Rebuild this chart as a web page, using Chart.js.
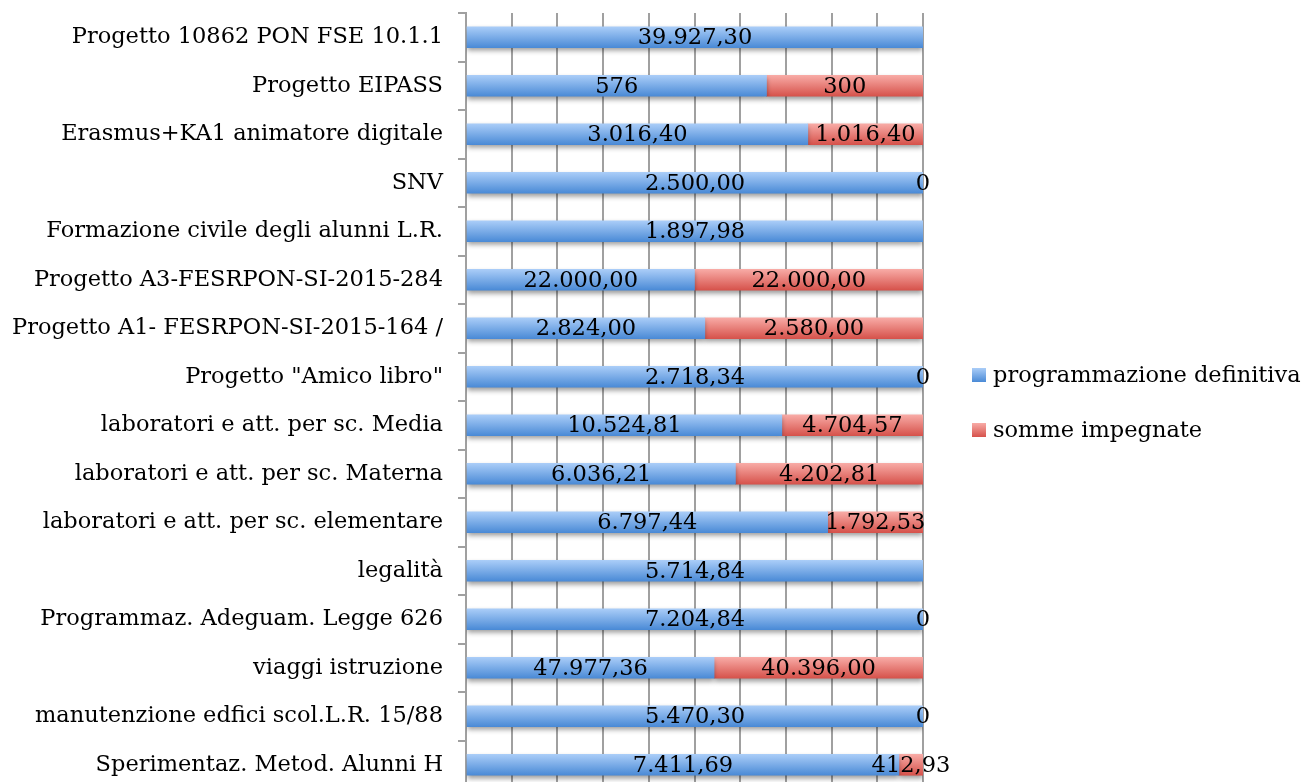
<!DOCTYPE html>
<html>
<head>
<meta charset="utf-8">
<script src="https://cdn.jsdelivr.net/npm/chart.js@4/dist/chart.umd.min.js"></script>
<style>
  html, body { margin: 0; padding: 0; background: #fff; overflow: hidden; }
</style>
</head>
<body>
<canvas id="chart" width="1305" height="800"></canvas>
<script>
const categories = [
    'Progetto 10862 PON FSE 10.1.1',
    'Progetto EIPASS',
    'Erasmus+KA1 animatore digitale',
    'SNV',
    'Formazione civile degli alunni L.R.',
    'Progetto A3-FESRPON-SI-2015-284',
    'Progetto A1- FESRPON-SI-2015-164 /',
    'Progetto "Amico libro"',
    'laboratori e att. per sc. Media',
    'laboratori e att. per sc. Materna',
    'laboratori e att. per sc. elementare',
    'legalità',
    'Programmaz. Adeguam. Legge 626',
    'viaggi istruzione',
    'manutenzione edfici scol.L.R. 15/88',
    'Sperimentaz. Metod. Alunni H'
];
// values as written in the source table (decimals kept for the labels)
const programmazione = ['39927.30', '576', '3016.40', '2500.00', '1897.98', '22000.00', '2824.00', '2718.34',
    '10524.81', '6036.21', '6797.44', '5714.84', '7204.84', '47977.36', '5470.30', '7411.69'];
const somme = [null, '300', '1016.40', '0', null, '22000.00', '2580.00', '0',
    '4704.57', '4202.81', '1792.53', null, '0', '40396.00', '0', '412.93'];
const seriesNames = ['programmazione definitiva', 'somme impegnate'];

const FONT = '"DejaVu Serif", serif';
const FONT_SIZE = 22.5;

// italian number format: 39927.30 -> 39.927,30
function fmt(str) {
    const parts = str.split('.');
    const intPart = parts[0].replace(/\B(?=(\d{3})+(?!\d))/g, '.');
    return parts.length > 1 ? intPart + ',' + parts[1] : intPart;
}

// 100% stacked shares
const total = programmazione.map((p, i) => parseFloat(p) + (somme[i] === null ? 0 : parseFloat(somme[i])));
const progPct = programmazione.map((p, i) => parseFloat(p) / total[i] * 100);
const sommePct = somme.map((s, i) => s === null ? null : parseFloat(s) / total[i] * 100);
const rawValues = [programmazione, somme];

const palette = [
    { top: '#aacdf8', bottom: '#4a8ad6' },
    { top: '#f8aba6', bottom: '#d6524b' }
];

function barGradient(dsIndex) {
    return function(context) {
        const chart = context.chart;
        const c = palette[dsIndex];
        if (!chart.chartArea || !chart.scales.y) return c.bottom;
        const y = chart.scales.y.getPixelForValue(context.dataIndex);
        const g = chart.ctx.createLinearGradient(0, y - 10.5, 0, y + 10.5);
        g.addColorStop(0, c.top);
        g.addColorStop(1, c.bottom);
        return g;
    };
}

const shadowPlugin = {
    id: 'barShadow',
    beforeDatasetsDraw(chart) {
        const ctx = chart.ctx;
        ctx.save();
        ctx.shadowColor = 'rgba(0,0,0,0.4)';
        ctx.shadowBlur = 5;
        ctx.shadowOffsetX = 0;
        ctx.shadowOffsetY = 3;
    },
    afterDatasetsDraw(chart) {
        chart.ctx.restore();
    }
};

const valueLabels = {
    id: 'valueLabels',
    afterDatasetsDraw(chart) {
        const ctx = chart.ctx;
        ctx.save();
        ctx.font = FONT_SIZE + 'px ' + FONT;
        ctx.fillStyle = '#000';
        ctx.textAlign = 'center';
        ctx.textBaseline = 'middle';
        chart.data.datasets.forEach((ds, di) => {
            const meta = chart.getDatasetMeta(di);
            meta.data.forEach((bar, i) => {
                const raw = rawValues[di][i];
                if (raw === null) return;
                const p = bar.getProps(['x', 'y', 'base'], true);
                ctx.fillText(fmt(raw), (p.x + p.base) / 2, p.y + 1);
            });
        });
        ctx.restore();
    }
};

const sideLegend = {
    id: 'sideLegend',
    afterDraw(chart) {
        const ctx = chart.ctx;
        const items = [{ y: 375 }, { y: 430 }];
        ctx.save();
        ctx.font = FONT_SIZE + 'px ' + FONT;
        ctx.textBaseline = 'middle';
        ctx.textAlign = 'left';
        items.forEach((it, i) => {
            const g = ctx.createLinearGradient(0, it.y - 7, 0, it.y + 7);
            g.addColorStop(0, palette[i].top);
            g.addColorStop(1, palette[i].bottom);
            ctx.fillStyle = g;
            ctx.fillRect(972, it.y - 7, 14, 14);
            ctx.fillStyle = '#000';
            ctx.fillText(chart.data.datasets[i].label, 993, it.y + 1);
        });
        ctx.restore();
    }
};

new Chart(document.getElementById('chart'), {
    type: 'bar',
    data: {
        labels: categories,
        datasets: [
            {
                label: seriesNames[0],
                data: progPct,
                backgroundColor: barGradient(0),
                borderWidth: 0,
                barThickness: 21
            },
            {
                label: seriesNames[1],
                data: sommePct,
                backgroundColor: barGradient(1),
                borderWidth: 0,
                barThickness: 21
            }
        ]
    },
    options: {
        indexAxis: 'y',
        responsive: false,
        animation: false,
        layout: { padding: { top: 13, right: 382, bottom: 11, left: 0 } },
        plugins: {
            legend: { display: false },
            tooltip: { enabled: false }
        },
        scales: {
            x: {
                stacked: true,
                min: 0,
                max: 100,
                ticks: { display: false, stepSize: 10 },
                grid: { color: '#a0a0a0', lineWidth: 2, drawTicks: false },
                border: { display: false },
                afterFit(scale) {
                    scale.height = 0;
                    scale.paddingLeft = 0;
                    scale.paddingRight = 0;
                }
            },
            y: {
                stacked: true,
                ticks: {
                    color: '#000',
                    padding: 15,
                    font: { family: FONT, size: FONT_SIZE }
                },
                grid: {
                    drawOnChartArea: false,
                    drawTicks: true,
                    tickLength: 8,
                    lineWidth: 2,
                    color: '#a0a0a0'
                },
                border: { display: true, color: '#a0a0a0', width: 2 },
                afterFit(scale) {
                    scale.width = 466;
                    scale.paddingTop = 0;
                    scale.paddingBottom = 0;
                }
            }
        }
    },
    plugins: [shadowPlugin, valueLabels, sideLegend]
});
</script>
</body>
</html>
